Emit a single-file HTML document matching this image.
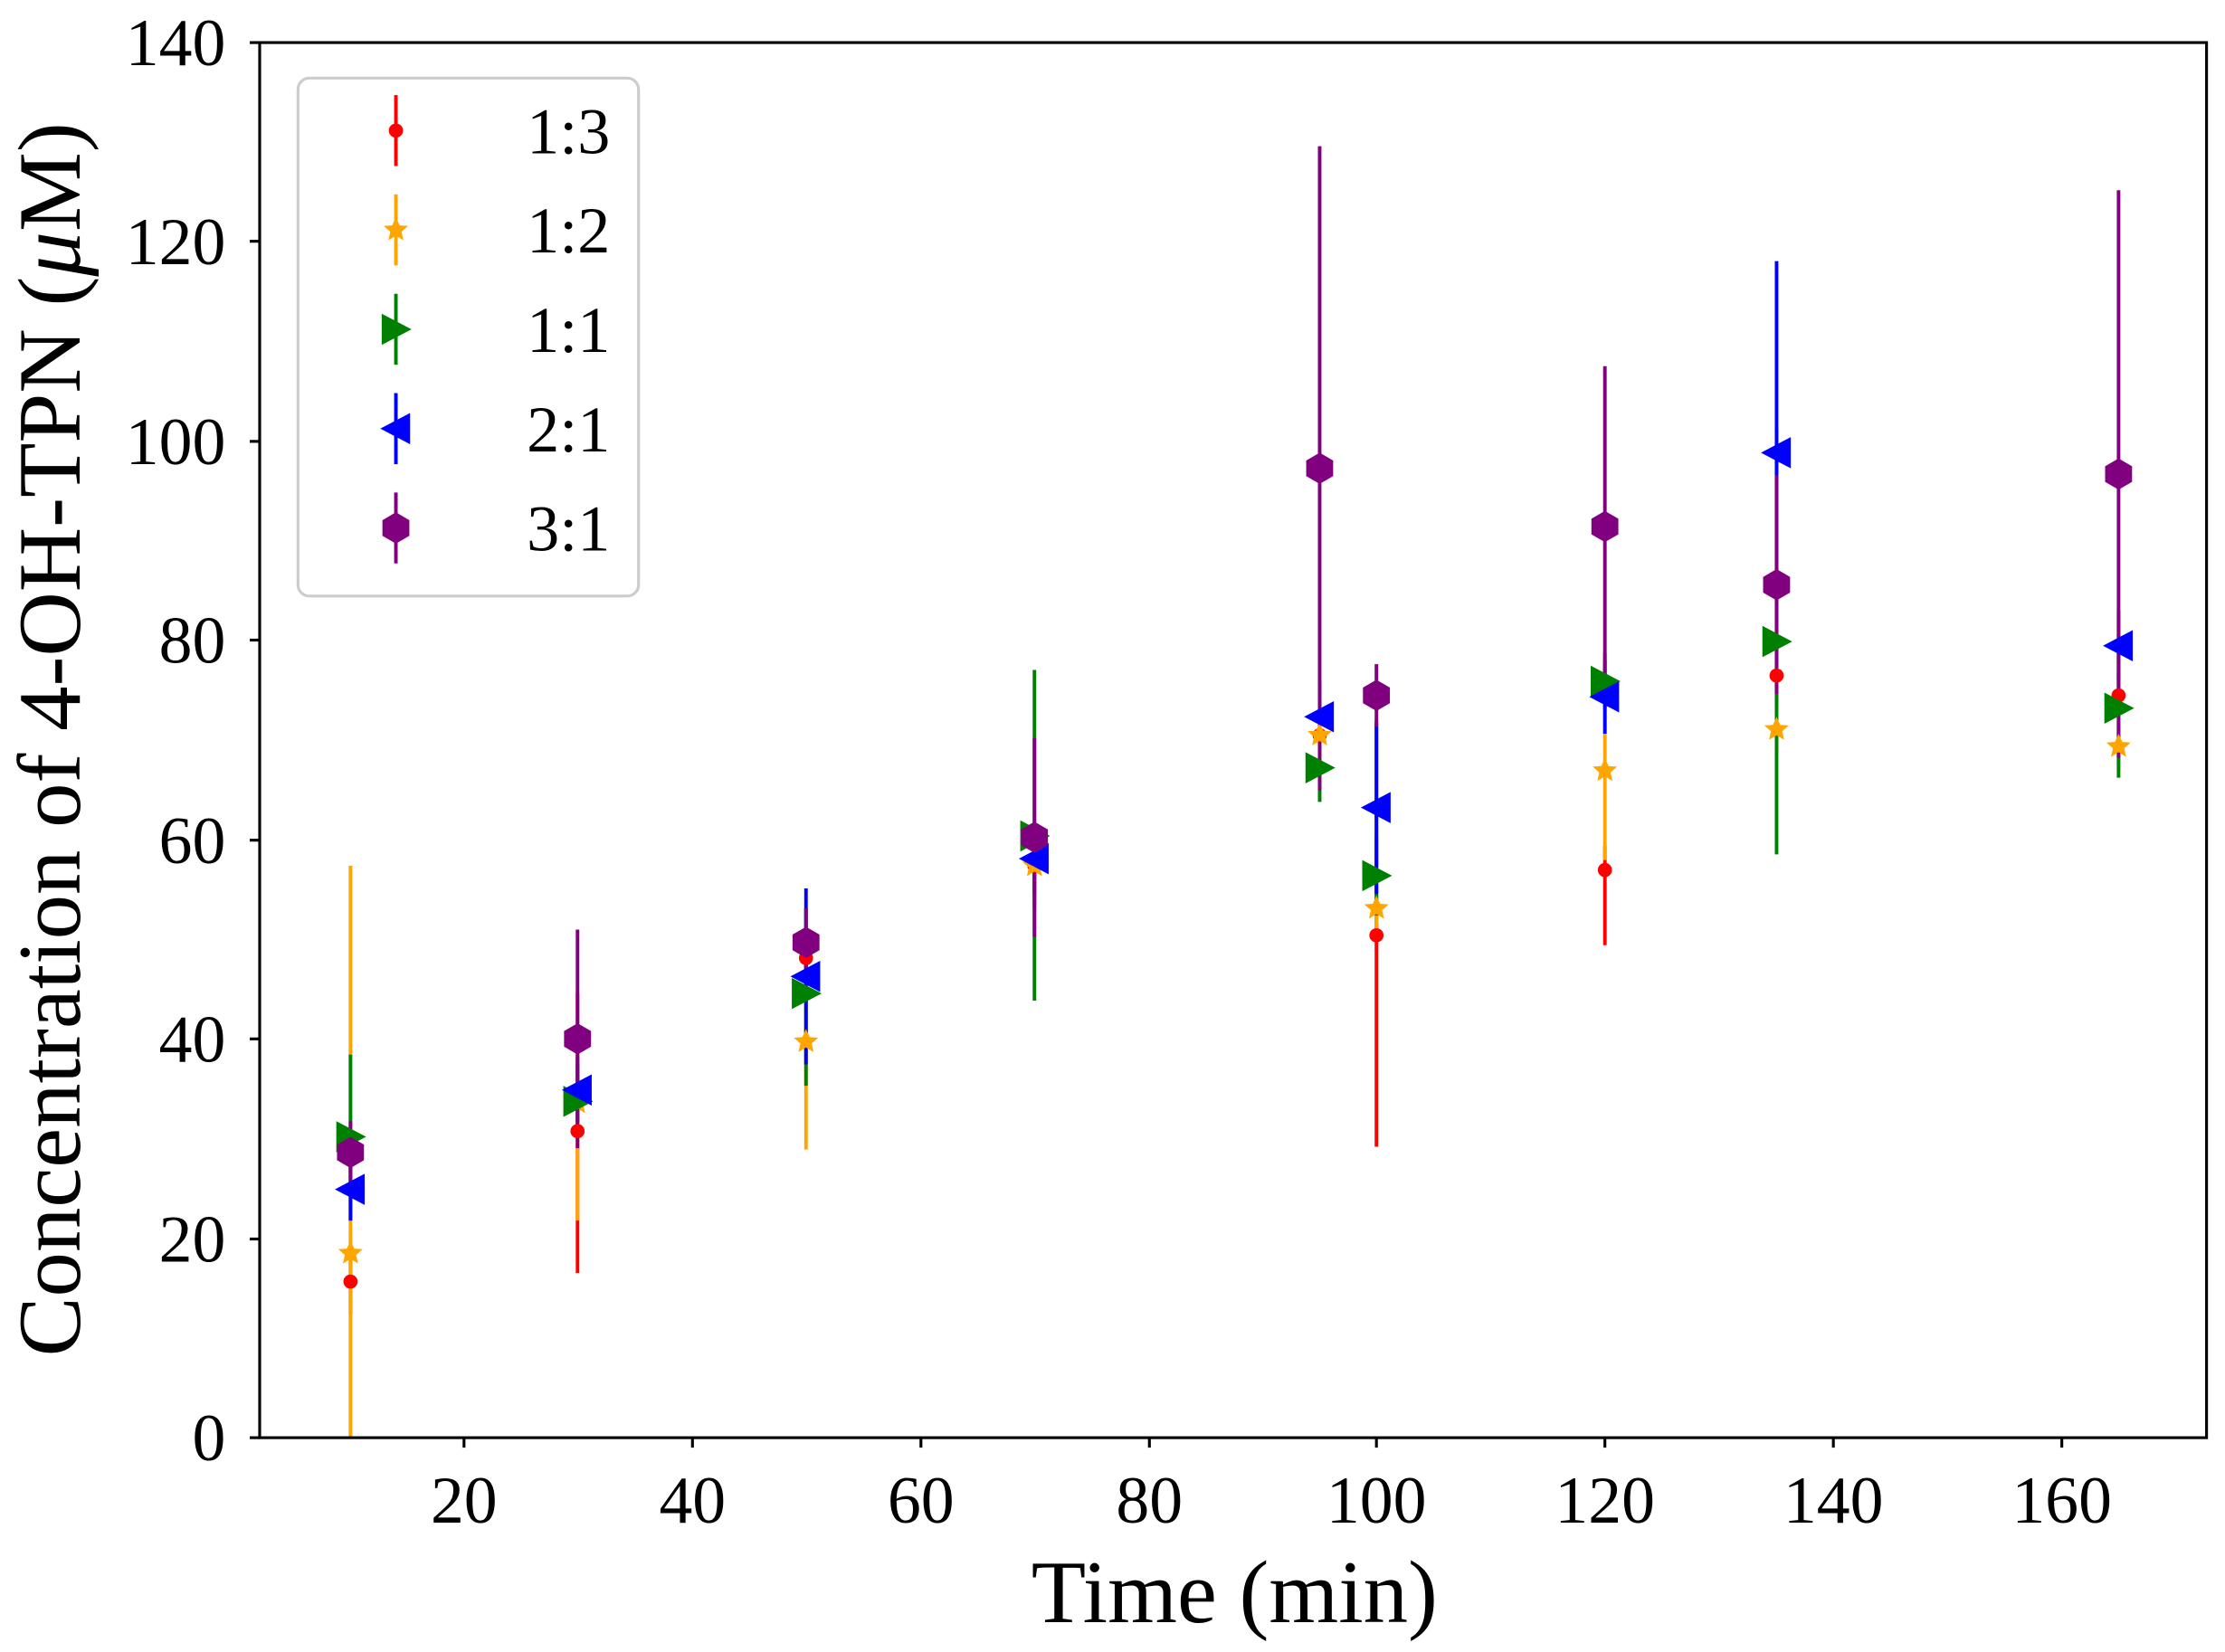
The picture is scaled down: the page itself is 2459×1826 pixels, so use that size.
<!DOCTYPE html>
<html><head><style>html,body{margin:0;padding:0;background:#fff}svg{display:block}</style></head>
<body>
<svg width="2459" height="1826" viewBox="0 0 1568 1164" preserveAspectRatio="none" xmlns="http://www.w3.org/2000/svg" font-family="Liberation Serif, serif">
<rect width="1568" height="1164" fill="#fff"/>
<defs>
<circle id="mr" r="5" fill="red"/>
<polygon id="mo" points="0,-9 2.6,-3.2 8.6,-2.8 4,1.2 5.3,7.3 0,4 -5.3,7.3 -4,1.2 -8.6,-2.8 -2.6,-3.2" fill="orange"/>
<polygon id="mg" points="-10,-11 11,0 -10,11" fill="green"/>
<polygon id="mb" points="10,-11 -11,0 10,11" fill="blue"/>
<polygon id="mp" points="0,-11 9.5,-5.5 9.5,5.5 0,11 -9.5,5.5 -9.5,-5.5" fill="purple"/>
</defs>
<g stroke-width="2.5">
<g stroke="red">
<line x1="247" y1="880" x2="247" y2="926"/><line x1="407" y1="700" x2="407" y2="897"/>
<line x1="568" y1="660" x2="568" y2="690"/><line x1="729" y1="580" x2="729" y2="640"/>
<line x1="930" y1="495" x2="930" y2="540"/><line x1="970" y1="510" x2="970" y2="808"/>
<line x1="1131" y1="596" x2="1131" y2="666"/><line x1="1252" y1="455" x2="1252" y2="497"/>
<line x1="1493" y1="475" x2="1493" y2="505"/>
</g>
<g stroke="orange">
<line x1="247" y1="610" x2="247" y2="1013"/><line x1="407" y1="730" x2="407" y2="860"/>
<line x1="568" y1="660" x2="568" y2="810"/><line x1="729" y1="580" x2="729" y2="640"/>
<line x1="930" y1="495" x2="930" y2="540"/><line x1="970" y1="620" x2="970" y2="660"/>
<line x1="1131" y1="480" x2="1131" y2="606"/><line x1="1252" y1="495" x2="1252" y2="533"/>
<line x1="1493" y1="510" x2="1493" y2="542"/>
</g>
<g stroke="green">
<line x1="247" y1="743" x2="247" y2="860"/><line x1="407" y1="750" x2="407" y2="800"/>
<line x1="568" y1="640" x2="568" y2="765"/><line x1="729" y1="472" x2="729" y2="705"/>
<line x1="930" y1="517" x2="930" y2="565"/><line x1="970" y1="590" x2="970" y2="645"/>
<line x1="1131" y1="460" x2="1131" y2="500"/><line x1="1252" y1="302" x2="1252" y2="602"/>
<line x1="1493" y1="450" x2="1493" y2="548"/>
</g>
<g stroke="blue">
<line x1="247" y1="815" x2="247" y2="860"/><line x1="407" y1="745" x2="407" y2="790"/>
<line x1="568" y1="626" x2="568" y2="750"/><line x1="729" y1="580" x2="729" y2="630"/>
<line x1="930" y1="480" x2="930" y2="530"/><line x1="970" y1="508" x2="970" y2="630"/>
<line x1="1131" y1="465" x2="1131" y2="517"/><line x1="1252" y1="184" x2="1252" y2="454"/>
<line x1="1493" y1="430" x2="1493" y2="480"/>
</g>
<g stroke="purple">
<line x1="247" y1="790" x2="247" y2="834"/><line x1="407" y1="655" x2="407" y2="809"/>
<line x1="568" y1="640" x2="568" y2="688"/><line x1="729" y1="520" x2="729" y2="660"/>
<line x1="930" y1="103" x2="930" y2="557"/><line x1="970" y1="468" x2="970" y2="512"/>
<line x1="1131" y1="258" x2="1131" y2="484"/><line x1="1252" y1="335" x2="1252" y2="489"/>
<line x1="1493" y1="134" x2="1493" y2="534"/>
</g>
</g>
<use href="#mr" x="247" y="903"/><use href="#mr" x="407" y="797"/><use href="#mr" x="568" y="675"/><use href="#mr" x="729" y="610"/><use href="#mr" x="930" y="518"/><use href="#mr" x="970" y="659"/><use href="#mr" x="1131" y="613"/><use href="#mr" x="1252" y="476"/><use href="#mr" x="1493" y="490"/>
<use href="#mo" x="247" y="883"/><use href="#mo" x="407" y="777"/><use href="#mo" x="568" y="734"/><use href="#mo" x="729" y="610"/><use href="#mo" x="930" y="518"/><use href="#mo" x="970" y="640"/><use href="#mo" x="1131" y="543"/><use href="#mo" x="1252" y="514"/><use href="#mo" x="1493" y="526"/>
<use href="#mg" x="247" y="801"/><use href="#mg" x="407" y="776"/><use href="#mg" x="568" y="700"/><use href="#mg" x="729" y="589"/><use href="#mg" x="930" y="541"/><use href="#mg" x="970" y="617"/><use href="#mg" x="1131" y="480"/><use href="#mg" x="1252" y="452"/><use href="#mg" x="1493" y="499"/>
<use href="#mb" x="247" y="838"/><use href="#mb" x="407" y="768"/><use href="#mb" x="568" y="688"/><use href="#mb" x="729" y="605"/><use href="#mb" x="930" y="505"/><use href="#mb" x="970" y="569"/><use href="#mb" x="1131" y="491"/><use href="#mb" x="1252" y="319"/><use href="#mb" x="1493" y="455"/>
<use href="#mp" x="247" y="812"/><use href="#mp" x="407" y="732"/><use href="#mp" x="568" y="664"/><use href="#mp" x="729" y="590"/><use href="#mp" x="930" y="330"/><use href="#mp" x="970" y="490"/><use href="#mp" x="1131" y="371"/><use href="#mp" x="1252" y="412"/><use href="#mp" x="1493" y="334"/>
<rect x="183" y="30" width="1372" height="983" fill="none" stroke="#000" stroke-width="2"/>
<g stroke="#000" stroke-width="2">
<line x1="176" y1="1013" x2="183" y2="1013"/><line x1="176" y1="873" x2="183" y2="873"/><line x1="176" y1="732" x2="183" y2="732"/><line x1="176" y1="592" x2="183" y2="592"/><line x1="176" y1="451" x2="183" y2="451"/><line x1="176" y1="311" x2="183" y2="311"/><line x1="176" y1="170" x2="183" y2="170"/><line x1="176" y1="30" x2="183" y2="30"/>
<line x1="327" y1="1013" x2="327" y2="1020"/><line x1="488" y1="1013" x2="488" y2="1020"/><line x1="649" y1="1013" x2="649" y2="1020"/><line x1="810" y1="1013" x2="810" y2="1020"/><line x1="970" y1="1013" x2="970" y2="1020"/><line x1="1131" y1="1013" x2="1131" y2="1020"/><line x1="1292" y1="1013" x2="1292" y2="1020"/><line x1="1453" y1="1013" x2="1453" y2="1020"/>
</g>
<g font-size="47" text-anchor="end">
<text x="159" y="1029">0</text><text x="159" y="889">20</text><text x="159" y="748">40</text><text x="159" y="608">60</text><text x="159" y="467">80</text><text x="159" y="327">100</text><text x="159" y="186">120</text><text x="159" y="46">140</text>
</g>
<g font-size="47" text-anchor="middle">
<text x="327" y="1073">20</text><text x="488" y="1073">40</text><text x="649" y="1073">60</text><text x="810" y="1073">80</text><text x="970" y="1073">100</text><text x="1131" y="1073">120</text><text x="1292" y="1073">140</text><text x="1453" y="1073">160</text>
</g>
<text x="870" y="1143" font-size="63" text-anchor="middle">Time (min)</text>
<text transform="translate(56,521) rotate(-90)" font-size="63" text-anchor="middle">Concentration of 4-OH-TPN (<tspan font-style="italic">μ</tspan>M)</text>
<rect x="210" y="55" width="240" height="365" rx="8" fill="#fff" stroke="#ccc" stroke-width="2"/>
<g stroke-width="2.5">
<line x1="279" y1="67" x2="279" y2="117" stroke="red"/><line x1="279" y1="137" x2="279" y2="187" stroke="orange"/><line x1="279" y1="207" x2="279" y2="257" stroke="green"/><line x1="279" y1="277" x2="279" y2="327" stroke="blue"/><line x1="279" y1="347" x2="279" y2="397" stroke="purple"/>
</g>
<use href="#mr" x="279" y="92"/><use href="#mo" x="279" y="162"/><use href="#mg" x="279" y="232"/><use href="#mb" x="279" y="302"/><use href="#mp" x="279" y="372"/>
<g font-size="46" text-anchor="end">
<text x="430" y="108">1:3</text><text x="430" y="178">1:2</text><text x="430" y="248">1:1</text><text x="430" y="318">2:1</text><text x="430" y="388">3:1</text>
</g>
</svg>
</body></html>
